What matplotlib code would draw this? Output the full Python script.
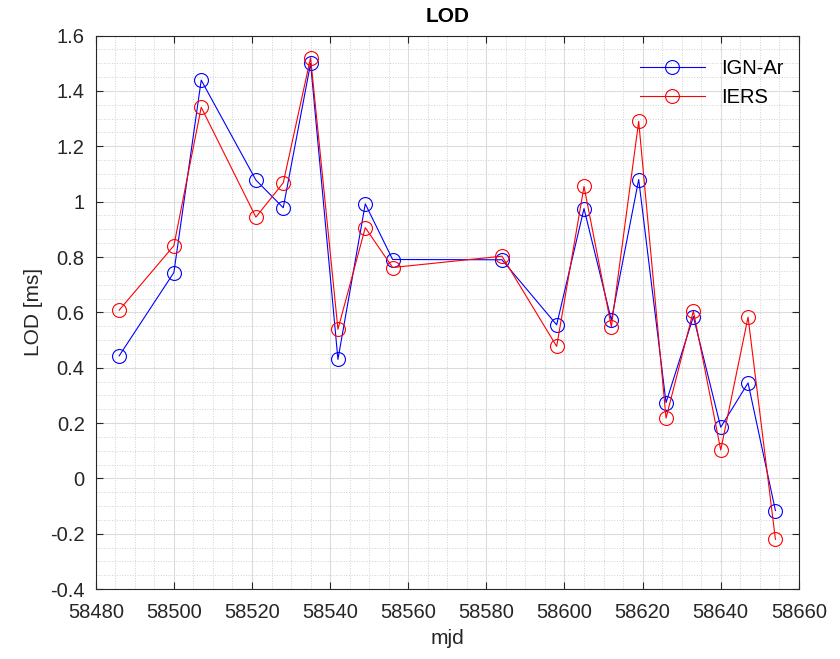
import matplotlib.pyplot as plt
from matplotlib.ticker import MultipleLocator, FuncFormatter

plt.rcParams['font.family'] = ['Liberation Sans', 'DejaVu Sans']

mjd = [58486, 58500, 58507, 58521, 58528, 58535, 58542, 58549, 58556, 58584,
       58598, 58605, 58612, 58619, 58626, 58633, 58640, 58647, 58654]
lod_ign = [0.443, 0.744, 1.439, 1.078, 0.978, 1.500, 0.430, 0.992, 0.791, 0.790,
           0.555, 0.975, 0.572, 1.080, 0.274, 0.585, 0.185, 0.345, -0.116]
lod_iers = [0.608, 0.841, 1.341, 0.944, 1.068, 1.520, 0.539, 0.906, 0.762, 0.803,
            0.477, 1.055, 0.548, 1.290, 0.218, 0.605, 0.103, 0.583, -0.220]

fig = plt.figure(figsize=(8.4, 6.59), dpi=100)
ax = fig.add_axes([0.114, 0.106, 0.837, 0.840])

ax.plot(mjd, lod_ign, color='b', marker='o', markersize=10, markerfacecolor='none',
        linewidth=0.8, markeredgewidth=0.8, label='IGN-Ar')
ax.plot(mjd, lod_iers, color='r', marker='o', markersize=10, markerfacecolor='none',
        linewidth=0.8, markeredgewidth=0.8, label='IERS')

ax.set_xlim(58480, 58660)
ax.set_ylim(-0.4, 1.6)
ax.xaxis.set_major_locator(MultipleLocator(20))
ax.xaxis.set_minor_locator(MultipleLocator(5))
ax.yaxis.set_major_locator(MultipleLocator(0.2))
ax.yaxis.set_minor_locator(MultipleLocator(0.05))
ax.yaxis.set_major_formatter(FuncFormatter(lambda v, p: '%g' % round(v, 2)))

ax.grid(which='major', color='#dcdcdc', linewidth=0.8)
ax.grid(which='minor', color='#d0d0d0', linestyle=':', linewidth=0.7)
ax.set_axisbelow(True)

ax.tick_params(which='both', direction='in', top=True, right=True, colors='#262626',
               labelsize=14.5)
ax.tick_params(which='major', length=5, width=0.8)
ax.tick_params(which='minor', length=0)
ax.tick_params(axis='x', which='major', pad=10)
ax.tick_params(axis='y', which='major', pad=8)
for s in ax.spines.values():
    s.set_color('#262626')
    s.set_linewidth(0.8)

ax.set_xlabel('mjd', fontsize=15, color='#262626', labelpad=5)
ax.set_ylabel('LOD [ms]', fontsize=15, color='#262626', labelpad=5)
ax.set_title('LOD', fontsize=15, fontweight='bold', color='black', pad=10)

ax.legend(loc='upper right', frameon=False, fontsize=14.5, handlelength=3.2,
          bbox_to_anchor=(0.995, 0.98), borderaxespad=0.2, labelspacing=0.5)

fig.savefig('out.png', dpi=100)
